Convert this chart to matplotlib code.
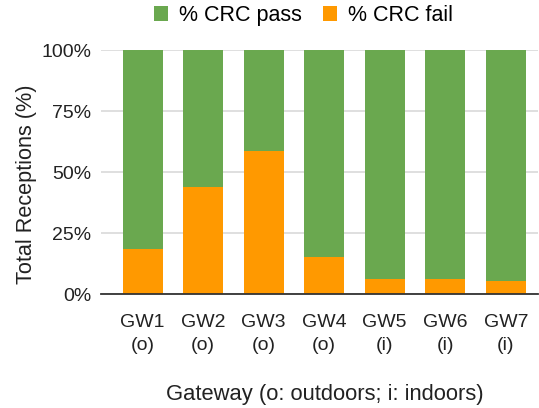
import numpy as np
import matplotlib
matplotlib.use("Agg")
import matplotlib.pyplot as plt
from matplotlib.ticker import FuncFormatter

matplotlib.rcParams["font.family"] = ["Liberation Sans", "DejaVu Sans"]
matplotlib.rcParams["font.size"] = 14

gateways = ["GW1\n(o)", "GW2\n(o)", "GW3\n(o)", "GW4\n(o)", "GW5\n(i)", "GW6\n(i)", "GW7\n(i)"]
crc_fail = np.array([18.4, 43.9, 58.5, 15.3, 6.1, 6.1, 5.2])
crc_pass = 100 - crc_fail

green = "#6aa84f"
orange = "#ff9900"

fig = plt.figure(figsize=(5.39, 4.08), dpi=100)
ax = fig.add_axes([0.187, 0.279, 0.811, 0.598])

x = np.arange(len(gateways))
ax.bar(x, crc_fail, width=0.66, color=orange, label="% CRC fail", zorder=3)
ax.bar(x, crc_pass, width=0.66, bottom=crc_fail, color=green, label="% CRC pass", zorder=3)

ax.set_xlim(-0.69, 6.53)
ax.set_ylim(0, 100)
ax.set_yticks([0, 25, 50, 75, 100])
ax.yaxis.set_major_formatter(FuncFormatter(lambda v, p: "{:d}%".format(int(v))))
ax.set_xticks(x)
ax.set_xticklabels(gateways, color="#222222", linespacing=1.5)
ax.tick_params(axis="y", length=0, pad=7, colors="#222222")
ax.tick_params(axis="x", length=0, pad=14)
ax.grid(axis="y", color="#d9d9d9", lw=1.2, zorder=0)
for s in ["top", "right", "left"]:
    ax.spines[s].set_visible(False)
ax.spines["bottom"].set_color("#333333")
ax.spines["bottom"].set_linewidth(1.3)
ax.spines["bottom"].set_zorder(4)

ax.set_ylabel("Total Receptions (%)", color="#222222", fontsize=15.6)
ax.yaxis.set_label_coords(-0.146, 0.45)
ax.set_xlabel("Gateway (o: outdoors; i: indoors)", color="#222222", fontsize=15.8)
ax.xaxis.set_label_coords(0.513, -0.37)

handles, labels = ax.get_legend_handles_labels()
fig.legend(handles[::-1], labels[::-1], loc="center", bbox_to_anchor=(0.563, 0.962),
           ncol=2, frameon=False, fontsize=15.5, handlelength=0.65, handleheight=0.65,
           handletextpad=0.5, columnspacing=1.0)

fig.savefig("out.png", dpi=100)
